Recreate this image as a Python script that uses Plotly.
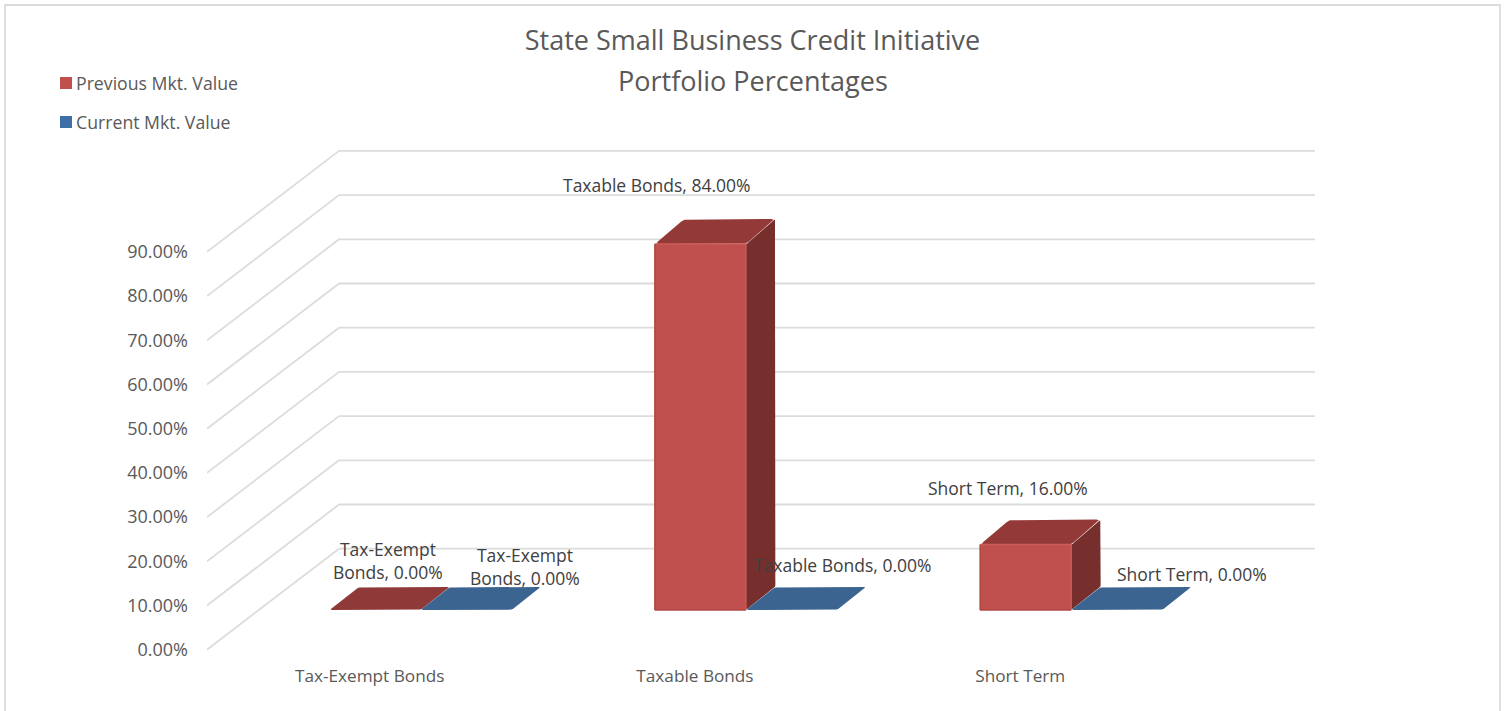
import plotly.graph_objects as go

# ---- data ----
categories = ["Tax-Exempt Bonds", "Taxable Bonds", "Short Term"]
previous_values = [0.0, 84.0, 16.0]
current_values = [0.0, 0.0, 0.0]
series_names = ["Previous Mkt. Value", "Current Mkt. Value"]
y_ticks = [0, 10, 20, 30, 40, 50, 60, 70, 80, 90]
y_tick_labels = ["0.00%", "10.00%", "20.00%", "30.00%", "40.00%", "50.00%", "60.00%", "70.00%", "80.00%", "90.00%"]
title_lines = ["State Small Business Credit Initiative", "Portfolio Percentages"]

# ---- page geometry (pixels) ----
W, H = 1505, 711
PL, PR, PT, PB = 207, 1320, 140, 655
SX = 325.3          # pixels per category
SY = 4.42           # pixels per percentage point
ZERO_PX = 649.7

def x_px(px):
    return (px - PL) / SX - 0.5

def y_px(py):
    return (ZERO_PX - py) / SY

def px_paper_x(px):
    return (px - PL) / (PR - PL)

def px_paper_y(py):
    return (PB - py) / (PB - PT)

# ---- oblique 3-D projection (in axis units) ----
BACK_DX, BACK_DY = 132 / SX, 101 / SY     # wall depth
BAR_W = 91 / SX
GROUP_SHIFT = 50.9 / SX                   # bars stand this far behind the front plane
FLOOR_Y = (ZERO_PX - 610) / SY
BAR_DX, TOP_DY, FLOOR_DY = 29.5 / SX, 25 / SY, 23 / SY
BEVEL = 1.2

C_RED, C_RED_TOP, C_RED_SIDE, C_RED_FLAT = "#C0504D", "#933A38", "#772F2D", "#8F3A39"
C_BLUE, C_BLUE_TOP = "#3F6FA6", "#3B6491"
C_RED_HI, C_RED_LO = "#CB5C58", "#B04643"
GRID = "#DCDCDC"
TXT = "#595959"
LBL = "#404040"
FONT = "Open Sans"


def chamfer(pts, r=4.0):
    """Soften polygon corners (radius in pixels)."""
    out = []
    n = len(pts)
    for i in range(n):
        p0, p1, p2 = pts[i - 1], pts[i], pts[(i + 1) % n]
        def toward(a, b):
            dx, dy = (b[0] - a[0]) * SX, (b[1] - a[1]) * SY
            d = (dx * dx + dy * dy) ** 0.5
            t = min(r / d, 0.45) if d else 0
            return (a[0] + (b[0] - a[0]) * t, a[1] + (b[1] - a[1]) * t)
        a, b = toward(p1, p0), toward(p1, p2)
        mid = ((a[0] + b[0] + 2 * p1[0]) / 4, (a[1] + b[1] + 2 * p1[1]) / 4)
        out += [a, mid, b]
    return out


def polygon(pts, color, r=4.0):
    pts = chamfer(pts, r)
    return go.Scatter(
        x=[p[0] for p in pts] + [pts[0][0]],
        y=[p[1] for p in pts] + [pts[0][1]],
        mode="lines", fill="toself", fillcolor=color,
        line=dict(width=0, color=color),
        hoverinfo="skip", showlegend=False,
    )


def edge(xs, ys, color, width=1.5):
    return go.Scatter(x=xs, y=ys, mode="lines", line=dict(color=color, width=width),
                      hoverinfo="skip", showlegend=False)


fig = go.Figure()
positions = list(range(len(categories)))

# front faces (real bars, these also feed the legend)
for s, (vals, name, col) in enumerate(zip([previous_values, current_values], series_names, [C_RED, C_BLUE])):
    xc = [i + GROUP_SHIFT + (s - 0.5) * BAR_W for i in positions]
    bases = [FLOOR_Y for _ in vals]
    tops = [v + FLOOR_Y - BEVEL if v > 0 else FLOOR_Y for v in vals]
    fig.add_trace(go.Bar(
        x=xc, y=[t - b for t, b in zip(tops, bases)], base=bases, width=BAR_W,
        name=name, marker=dict(color=col, line=dict(width=0)),
        legendgroup=name, hoverinfo="skip",
    ))

# top, side and bevel faces
for s, (vals, flat_col, top_col) in enumerate(zip([previous_values, current_values],
                                                  [C_RED_FLAT, C_BLUE_TOP], [C_RED_TOP, C_BLUE_TOP])):
    for i, v in zip(positions, vals):
        x0 = i + GROUP_SHIFT + (s - 1) * BAR_W
        x1 = x0 + BAR_W
        if v <= 0:
            fig.add_trace(polygon([(x0, FLOOR_Y), (x1, FLOOR_Y),
                                   (x1 + BAR_DX, FLOOR_Y + FLOOR_DY), (x0 + BAR_DX, FLOOR_Y + FLOOR_DY)],
                                  flat_col, 2.5))
        else:
            top = v + FLOOR_Y - BEVEL
            fig.add_trace(polygon([(x1, FLOOR_Y), (x1 + BAR_DX, FLOOR_Y + FLOOR_DY),
                                   (x1 + BAR_DX, top + TOP_DY), (x1, top)], C_RED_SIDE, 2))
            fig.add_trace(polygon([(x0, top), (x1, top),
                                   (x1 + BAR_DX, top + TOP_DY), (x0 + BAR_DX, top + TOP_DY)], top_col, 4))
            fig.add_trace(edge([x0, x1, x1], [top, top, FLOOR_Y], C_RED_HI, 1.5))
            fig.add_trace(edge([x0, x0], [top, FLOOR_Y], C_RED_LO, 1.5))
            fig.add_trace(edge([x0, x1], [FLOOR_Y, FLOOR_Y], C_RED_LO, 1.5))

# gridlines on the side wall and the back wall
shapes = []
for t in y_ticks:
    xa, xb, xc = -0.5, -0.5 + BACK_DX, len(categories) - 0.5 + BACK_DX
    ya, yb = t, t + BACK_DY
    shapes.append(dict(type="line", xref="x", yref="y", x0=xa, y0=ya, x1=xb, y1=yb,
                       line=dict(color=GRID, width=1.8), layer="below"))
    shapes.append(dict(type="line", xref="x", yref="y", x0=xb, y0=yb, x1=xc, y1=yb,
                       line=dict(color=GRID, width=1.8), layer="below"))

# chart frame: left, top and right edges (the bottom one is cut by the page)
shapes.append(dict(type="path", xref="paper", yref="paper",
                   path=f"M {px_paper_x(5)} {px_paper_y(H + 5)} L {px_paper_x(5)} {px_paper_y(5)} "
                        f"L {px_paper_x(1500)} {px_paper_y(5)} L {px_paper_x(1500)} {px_paper_y(H + 5)}",
                   line=dict(color=GRID, width=1.8)))

# data labels
label_texts = ["Tax-Exempt<br>Bonds, 0.00%", "Tax-Exempt<br>Bonds, 0.00%", "Taxable Bonds, 84.00%",
               "Taxable Bonds, 0.00%", "Short Term, 16.00%", "Short Term, 0.00%"]
label_px = [(388, 560), (525, 566.5), (657, 185), (843, 565), (1008, 488), (1192, 574)]
annotations = [
    dict(x=x_px(px), y=y_px(py), xref="x", yref="y", text=t, showarrow=False,
         xanchor="center", yanchor="middle", font=dict(family=FONT, size=17.5, color=LBL))
    for t, (px, py) in zip(label_texts, label_px)
]
annotations.append(dict(
    x=px_paper_x(752.5), y=px_paper_y(81), xref="paper", yref="paper", text=title_lines[1],
    showarrow=False, xanchor="center", yanchor="middle",
    font=dict(family=FONT, size=27, color=TXT)))

fig.update_layout(
    width=W, height=H,
    margin=dict(l=PL, r=W - PR, t=PT, b=H - PB, pad=0),
    paper_bgcolor="white", plot_bgcolor="rgba(0,0,0,0)",
    barmode="overlay", bargap=0,
    font=dict(family=FONT, size=17.2, color=TXT),
    title=dict(text=title_lines[0], x=752.5 / W, xref="container",
               xanchor="center", y=1 - 41 / H, yanchor="middle",
               font=dict(family=FONT, size=27, color=TXT)),
    xaxis=dict(range=[x_px(PL), x_px(PR)], tickmode="array", tickvals=positions, ticktext=categories,
               showgrid=False, zeroline=False, showline=False, ticks="",
               tickfont=dict(family=FONT, size=17.2, color=TXT), ticklabelstandoff=9, fixedrange=True),
    yaxis=dict(range=[y_px(PB), y_px(PT)], tickmode="array", tickvals=y_ticks, ticktext=y_tick_labels,
               showgrid=False, zeroline=False, showline=False, ticks="",
               tickfont=dict(family=FONT, size=18, color=TXT), ticklabelstandoff=18, fixedrange=True),
    legend=dict(x=px_paper_x(36), y=px_paper_y(65), xanchor="left", yanchor="top",
                orientation="v", tracegroupgap=13, traceorder="grouped",
                bgcolor="rgba(0,0,0,0)", font=dict(family=FONT, size=17.7, color=TXT)),
    shapes=shapes, annotations=annotations,
)

post = """
document.body.style.margin = '0';
document.documentElement.style.overflow = 'hidden';
function nudgeSwatches() {
  document.querySelectorAll('.legend .legendsymbols').forEach(function (g) {
    g.setAttribute('transform', 'translate(10,0)');
  });
}
nudgeSwatches();
setTimeout(nudgeSwatches, 50);
"""
fig.write_html("out.html", post_script=post, config={"displayModeBar": False})
